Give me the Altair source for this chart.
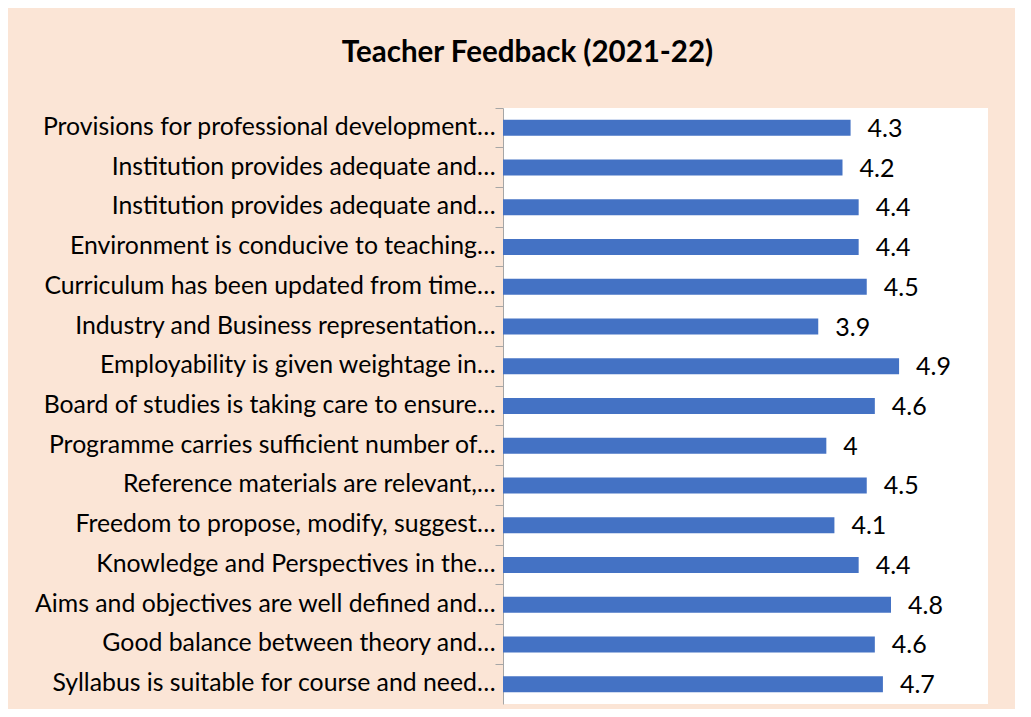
import altair as alt
import pandas as pd

categories = [
    "Provisions for professional development…",
    "Institution provides adequate and…",
    "Institution provides adequate and… ",
    "Environment is conducive to teaching…",
    "Curriculum has been updated from time…",
    "Industry and Business representation…",
    "Employability is given weightage in…",
    "Board of studies is taking care to ensure…",
    "Programme carries sufficient number of…",
    "Reference materials are relevant,…",
    "Freedom to propose, modify, suggest…",
    "Knowledge and Perspectives in the…",
    "Aims and objectives are well defined and…",
    "Good balance between theory and…",
    "Syllabus is suitable for course and need…",
]
values = [4.3, 4.2, 4.4, 4.4, 4.5, 3.9, 4.9, 4.6, 4.0, 4.5, 4.1, 4.4, 4.8, 4.6, 4.7]

df = pd.DataFrame({"item": categories, "score": values})

FONT = "Lato"

y_enc = alt.Y(
    "item:N",
    sort=categories,
    title=None,
    scale=alt.Scale(paddingInner=0, paddingOuter=0),
    axis=alt.Axis(
        labelFont=FONT,
        labelFontSize=24.8,
        labelColor="#000000",
        labelPadding=0,
        labelLimit=700,
        tickSize=8,
        tickColor="#A6A6A6",
        domainColor="#A6A6A6",
        bandPosition=0,
        ticks=True,
    ),
)
x_enc = alt.X("score:Q", scale=alt.Scale(domain=[0, 6], nice=False), axis=None)

bars = alt.Chart(df).mark_bar(size=16, color="#4472C4").encode(x=x_enc, y=y_enc)
labels = alt.Chart(df).mark_text(
    align="left", baseline="middle", dx=17, dy=1, font=FONT, fontSize=25, color="#000000"
).encode(x=x_enc, y=y_enc, text=alt.Text("score:Q", format=".1~f"))

chart = (
    alt.layer(bars, labels)
    .properties(
        width=485,
        height=596,
        background="#FBE5D6",
        autosize=alt.AutoSizeParams(type="none"),
        padding={"left": 495, "top": 100, "right": 27, "bottom": 5},
        title=alt.TitleParams(
            "Teacher Feedback (2021-22)",
            font=FONT,
            fontSize=29.5,
            fontWeight="bold",
            color="#000000",
            anchor="middle",
            dx=-218,
            dy=-35,
        ),
    )
    .configure_view(fill="#FFFFFF", stroke=None)
)

chart.save("out.html", embed_options={"renderer": "svg", "actions": False})
